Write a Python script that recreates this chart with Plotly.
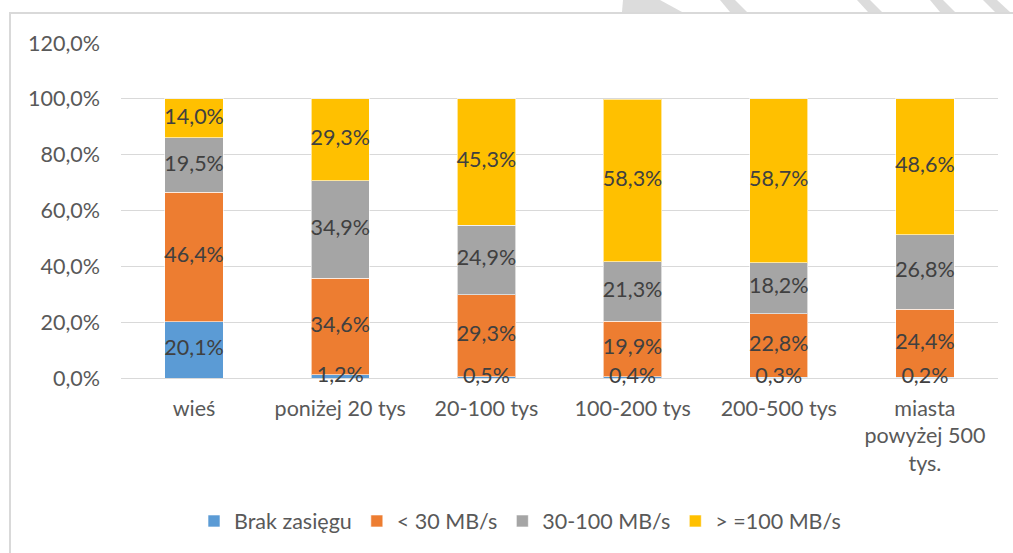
import plotly.graph_objects as go

categories = ["wieś", "poniżej 20 tys", "20-100 tys", "100-200 tys", "200-500 tys", "miasta<br>powyżej 500<br>tys."]
series_names = ["Brak zasięgu", "< 30 MB/s", "30-100 MB/s", "> =100 MB/s"]
brak = [20.1, 1.2, 0.5, 0.4, 0.3, 0.2]
lt30 = [46.4, 34.6, 29.3, 19.9, 22.8, 24.4]
mid = [19.5, 34.9, 24.9, 21.3, 18.2, 26.8]
ge100 = [14.0, 29.3, 45.3, 58.3, 58.7, 48.6]
colors = ["#5B9BD5", "#ED7D31", "#A5A5A5", "#FFC000"]
y_ticks = [0, 20, 40, 60, 80, 100, 120]

FONT = "Lato"
FS = 21.5
TXT = "#595959"
LBL = "#404040"

# plot area geometry (pixels)
W, H = 1013, 553
L, R, T, B = 121, 15, 43, 175
pw, ph = W - L - R, H - T - B

def px(x):
    return (x - L) / pw

def py(y):
    return (H - B - y) / ph

fig = go.Figure()
all_series = [brak, lt30, mid, ge100]
for name, vals, col in zip(series_names, all_series, colors):
    fig.add_trace(go.Bar(
        x=categories, y=[v / 100 for v in vals], name=name,
        marker=dict(color=col, line=dict(color="rgba(255,255,255,0.6)", width=1)),
        hoverinfo="skip",
    ))

# data labels at segment centres
base = [0.0] * len(categories)
for vals in all_series:
    centers = [(b + v / 2) / 100 for b, v in zip(base, vals)]
    fig.add_trace(go.Scatter(
        x=categories, y=centers, mode="text",
        text=[f"{v:.1f}%".replace(".", ",") for v in vals],
        textfont=dict(family=FONT, size=FS, color=LBL),
        showlegend=False, hoverinfo="skip", cliponaxis=False,
    ))
    base = [b + v for b, v in zip(base, vals)]

shapes = [
    dict(type="rect", xref="paper", yref="paper",
         x0=px(10), x1=px(1030), y0=py(570), y1=py(13),
         line=dict(color="#d9d9d9", width=2), fillcolor="rgba(0,0,0,0)", layer="below"),
]
# decorative watermark strokes above the chart frame
wm = [
    [(623, 0), (660, 0), (682, 12), (622, 12)],
    [(720, 0), (735, 0), (747, 12), (730, 12)],
    [(857, 0), (870, 0), (882, 12), (868, 12)],
    [(930, 0), (943, 0), (955, 12), (940, 12)],
    [(983, 0), (997, 0), (1010, 12), (995, 12)],
]
for poly in wm:
    path = "M " + " L ".join(f"{px(x):.5f},{py(y):.5f}" for x, y in poly) + " Z"
    shapes.append(dict(type="path", xref="paper", yref="paper", path=path,
                       fillcolor="#dcdcdc", line=dict(width=0)))

fig.update_layout(
    width=W, height=H,
    margin=dict(l=L, r=R, t=T, b=B, autoexpand=False),
    barmode="stack", bargap=0.6,
    paper_bgcolor="white", plot_bgcolor="white",
    font=dict(family=FONT, size=FS, color=TXT),
    shapes=shapes,
    legend=dict(orientation="h", x=px(520), xanchor="center", y=py(521), yanchor="middle",
                font=dict(family=FONT, size=FS, color=TXT), traceorder="normal",
                itemwidth=30, bgcolor="rgba(0,0,0,0)"),
    xaxis=dict(showgrid=False, showline=False, ticks="", ticklabelstandoff=15,
               tickfont=dict(family=FONT, size=FS, color=TXT), fixedrange=True),
    yaxis=dict(range=[0, 1.2], tickvals=[t / 100 for t in y_ticks],
               ticktext=[f"{t:.1f}%".replace(".", ",") for t in y_ticks],
               showgrid=True, gridcolor="#d9d9d9", gridwidth=1,
               zeroline=True, zerolinecolor="#d9d9d9", zerolinewidth=1,
               showline=False, ticks="", ticklabelstandoff=20,
               tickfont=dict(family=FONT, size=FS, color=TXT), fixedrange=True),
)

fig.write_html("out.html")
